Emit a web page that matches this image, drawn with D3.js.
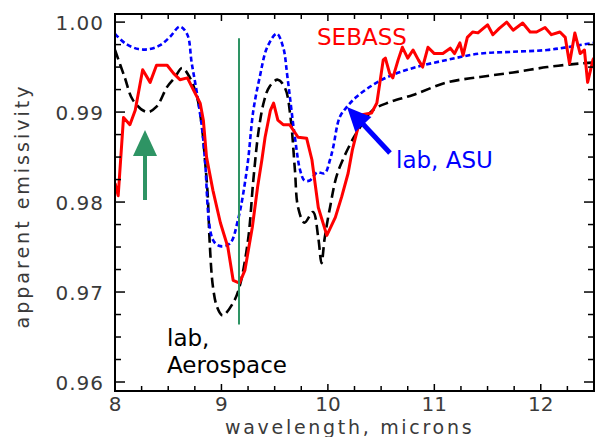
<!DOCTYPE html>
<html><head><meta charset="utf-8">
<script src="https://cdn.jsdelivr.net/npm/d3@7"></script>
<style>body{margin:0;background:#fff}svg{display:block}</style>
</head><body>
<svg id="chart" width="595" height="437"></svg>
<script>
// ---- data ----
const sebassWl = [8.00,8.03,8.08,8.14,8.19,8.26,8.33,8.39,8.49,8.55,8.61,8.68,8.74,8.80,8.83,8.86,8.92,8.99,9.06,9.11,9.17,9.22,9.29,9.34,9.38,9.41,9.46,9.49,9.53,9.58,9.64,9.72,9.80,9.85,9.91,9.99,10.07,10.13,10.19,10.23,10.27,10.32,10.41,10.46,10.52,10.54,10.58,10.61,10.66,10.70,10.75,10.80,10.85,10.89,10.94,11.00,11.08,11.15,11.19,11.24,11.27,11.31,11.36,11.41,11.46,11.50,11.55,11.61,11.68,11.74,11.83,11.90,11.96,12.04,12.10,12.18,12.23,12.27,12.32,12.37,12.41,12.44,12.49,12.50];
const sebassVal = [0.9821,0.9807,0.9894,0.9886,0.9902,0.9947,0.9933,0.9952,0.9952,0.9943,0.9936,0.9938,0.9924,0.9910,0.9891,0.9850,0.9813,0.9777,0.9750,0.9713,0.9710,0.9724,0.9772,0.9817,0.9847,0.9872,0.9902,0.9910,0.9891,0.9886,0.9886,0.9872,0.9871,0.9847,0.9794,0.9763,0.9783,0.9806,0.9832,0.9858,0.9877,0.9897,0.9899,0.9910,0.9958,0.9960,0.9943,0.9938,0.9958,0.9972,0.9960,0.9969,0.9958,0.9950,0.9972,0.9965,0.9965,0.9971,0.9965,0.9977,0.9963,0.9983,0.9989,0.9988,0.9993,0.9997,0.9986,0.9993,1.0000,0.9991,0.9999,0.9989,0.9989,0.9994,0.9986,0.9989,0.9983,0.9954,0.9988,0.9965,0.9969,0.9933,0.9958,0.9960];

const asuWl = [8.00,8.10,8.22,8.32,8.42,8.52,8.61,8.68,8.72,8.77,8.82,8.845,8.92,8.99,9.08,9.155,9.24,9.30,9.36,9.43,9.52,9.58,9.62,9.69,9.74,9.78,9.83,9.90,9.97,10.02,10.05,10.11,10.18,10.27,10.42,10.58,10.80,11.12,11.43,11.74,12.06,12.24,12.50];
const asuVal = [0.9987,0.9976,0.9970,0.9970,0.9974,0.9984,0.9995,0.9986,0.9955,0.9921,0.9880,0.9847,0.9758,0.9751,0.9754,0.9780,0.9837,0.9902,0.9939,0.9972,0.9987,0.9972,0.9939,0.9872,0.9835,0.9824,0.9824,0.9833,0.9832,0.9847,0.9861,0.9894,0.9906,0.9917,0.9930,0.9940,0.9949,0.9958,0.9965,0.9967,0.9969,0.9972,0.9977];

const aeroWl = [8.00,8.09,8.17,8.30,8.39,8.49,8.56,8.63,8.70,8.77,8.82,8.845,8.87,8.89,8.92,8.96,9.01,9.11,9.17,9.25,9.30,9.35,9.40,9.45,9.53,9.60,9.65,9.69,9.72,9.78,9.86,9.91,9.94,9.97,10.02,10.09,10.23,10.27,10.42,10.58,10.80,11.12,11.43,11.74,12.06,12.37,12.50];
const aeroVal = [0.9969,0.9939,0.9913,0.9900,0.9906,0.9928,0.9938,0.9949,0.9939,0.9917,0.9880,0.9847,0.9810,0.9754,0.9706,0.9683,0.9674,0.9688,0.9706,0.9758,0.9825,0.9880,0.9912,0.9928,0.9936,0.9926,0.9893,0.9836,0.9794,0.9777,0.9789,0.9760,0.9732,0.9760,0.9794,0.9832,0.9869,0.9877,0.9902,0.9911,0.9919,0.9933,0.9939,0.9944,0.9950,0.9954,0.9955];

const xTicks = [8,9,10,11,12];
const yTicks = [0.96,0.97,0.98,0.99,1.00];
const yTickLabels = ["0.96","0.97","0.98","0.99","1.00"];
const markerWl = 9.165;

// ---- drawing ----
const svg = d3.select("#chart");
const L=115, R=594, T=14, B=391;
const x = d3.scaleLinear().domain([8,12.5]).range([L,R]);
const y = d3.scaleLinear().domain([0.959,1.0009]).range([B,T]);

svg.append("clipPath").attr("id","cp").append("rect")
  .attr("x",L).attr("y",T).attr("width",R-L).attr("height",B-T);

const smooth = d3.line().x(d=>x(d[0])).y(d=>y(d[1])).curve(d3.curveCatmullRom.alpha(0.5));
const lin = d3.line().x(d=>x(d[0])).y(d=>y(d[1]));

const lines = svg.append("g").attr("clip-path","url(#cp)");
lines.append("path").datum(d3.zip(aeroWl,aeroVal)).attr("d",smooth)
  .attr("fill","none").attr("stroke","#000").attr("stroke-width",2.6).attr("stroke-dasharray","10,5");
lines.append("path").datum(d3.zip(asuWl,asuVal)).attr("d",smooth)
  .attr("fill","none").attr("stroke","#0000ff").attr("stroke-width",2.6).attr("stroke-dasharray","5,3");
lines.append("path").datum(d3.zip(sebassWl,sebassVal)).attr("d",lin)
  .attr("fill","none").attr("stroke","#ff0000").attr("stroke-width",3).attr("stroke-linejoin","round");

// green marker line
svg.append("line").attr("x1",x(markerWl)).attr("x2",x(markerWl))
  .attr("y1",y(0.9982)).attr("y2",y(0.9664))
  .attr("stroke","#2e9464").attr("stroke-width",2);

// frame and ticks
const axG = svg.append("g");
const xMinor = d3.range(8,12.51,0.25);
const yMinor = d3.range(0.96,1.0005,0.0025);
xMinor.forEach(v=>{
  const major = Math.abs(v-Math.round(v))<1e-6;
  const len = major?7:5;
  axG.append("line").attr("x1",x(v)).attr("x2",x(v)).attr("y1",B).attr("y2",B-len).attr("stroke","#000").attr("stroke-width",1.5);
  axG.append("line").attr("x1",x(v)).attr("x2",x(v)).attr("y1",T).attr("y2",T+len).attr("stroke","#000").attr("stroke-width",1.5);
});
yMinor.forEach(v=>{
  const major = Math.abs(v*100-Math.round(v*100))<1e-6;
  const len = major?10:6;
  axG.append("line").attr("x1",L).attr("x2",L+len).attr("y1",y(v)).attr("y2",y(v)).attr("stroke","#000").attr("stroke-width",1.5);
  axG.append("line").attr("x1",R).attr("x2",R-len).attr("y1",y(v)).attr("y2",y(v)).attr("stroke","#000").attr("stroke-width",1.5);
});
axG.append("rect").attr("x",L).attr("y",T).attr("width",R-L).attr("height",B-T)
  .attr("fill","none").attr("stroke","#000").attr("stroke-width",2);

const tf = "'DejaVu Sans', Verdana, sans-serif";
xTicks.forEach(v=>{
  svg.append("text").attr("x",x(v)).attr("y",411).attr("text-anchor","middle")
    .attr("font-family",tf).attr("font-size",20).attr("fill","#3a3a3a").text(v);
});
yTicks.forEach((v,i)=>{
  svg.append("text").attr("x",104).attr("y",y(v)+7.5).attr("text-anchor","end")
    .attr("font-family",tf).attr("font-size",20).attr("letter-spacing",1).attr("fill","#3a3a3a").text(yTickLabels[i]);
});
svg.append("text").attr("x",225).attr("y",434).attr("font-family",tf).attr("font-size",19)
  .attr("letter-spacing",2.7).attr("fill","#3a3a3a").text("wavelength, microns");
svg.append("text").attr("transform","translate(29,206) rotate(-90)").attr("text-anchor","middle")
  .attr("font-family",tf).attr("font-size",19).attr("letter-spacing",3).attr("fill","#3a3a3a").text("apparent emissivity");

// annotations
const af = "'DejaVu Sans', Verdana, sans-serif";
svg.append("text").attr("x",317).attr("y",45).attr("font-family",af).attr("font-size",23).attr("fill","#ff0000").text("SEBASS");
svg.append("text").attr("x",396).attr("y",168).attr("font-family",af).attr("font-size",23).attr("fill","#0000ff").text("lab, ASU");
svg.append("text").attr("x",167).attr("y",346).attr("font-family",af).attr("font-size",23).attr("fill","#000").text("lab,");
svg.append("text").attr("x",167).attr("y",373).attr("font-family",af).attr("font-size",23).attr("fill","#000").text("Aerospace");

// green arrow
svg.append("line").attr("x1",145).attr("x2",145).attr("y1",154).attr("y2",200).attr("stroke","#2e9464").attr("stroke-width",4);
svg.append("path").attr("d","M145,130 L157,156 L133,156 Z").attr("fill","#2e9464");

// blue arrow
(function(){
  const tip=[347,107], tail=[390,153];
  const dx=tip[0]-tail[0], dy=tip[1]-tail[1], n=Math.hypot(dx,dy);
  const ux=dx/n, uy=dy/n, px=-uy, py=ux;
  const hl=24, hw=11;
  const bx=tip[0]-ux*hl, by=tip[1]-uy*hl;
  svg.append("line").attr("x1",tail[0]).attr("y1",tail[1]).attr("x2",bx+ux*2).attr("y2",by+uy*2)
    .attr("stroke","#0000ff").attr("stroke-width",5);
  svg.append("path").attr("d",`M${tip[0]},${tip[1]} L${bx+px*hw},${by+py*hw} L${bx-px*hw},${by-py*hw} Z`).attr("fill","#0000ff");
})();
</script>
</body></html>
